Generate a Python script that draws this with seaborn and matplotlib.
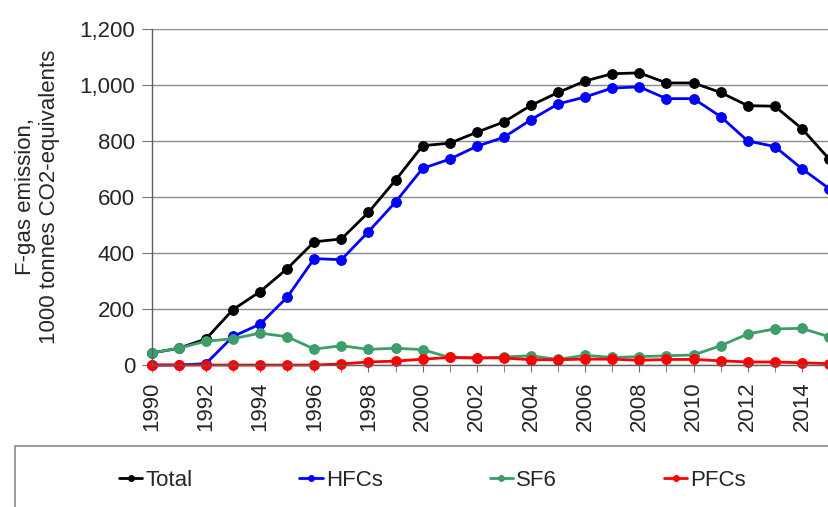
import matplotlib
matplotlib.use('Agg')
import matplotlib.pyplot as plt
import matplotlib.ticker as mticker
from matplotlib.patches import Rectangle
import pandas as pd
import seaborn as sns

# data (1000 tonnes CO2-eq)
years = list(range(1990, 2016))
total = [43, 60, 93, 198, 262, 344, 440, 450, 545, 660, 783, 792, 831, 868, 927,
         973, 1014, 1040, 1043, 1007, 1007, 973, 926, 924, 844, 736]
hfcs = [0, 0, 5, 102, 146, 242, 380, 376, 476, 582, 702, 735, 781, 813, 876,
        932, 957, 989, 993, 951, 951, 887, 800, 780, 701, 630]
sf6 = [43, 60, 85, 94, 114, 101, 57, 69, 56, 60, 55, 27, 24, 29, 33,
       20, 35, 27, 30, 33, 36, 69, 111, 129, 131, 101]
pfcs = [0, 0, 0, 0, 0, 0, 0, 4, 11, 14, 21, 27, 26, 25, 19,
        19, 21, 21, 17, 20, 20, 15, 11, 11, 8, 5]

series = {'Total': total, 'HFCs': hfcs, 'SF6': sf6, 'PFCs': pfcs}
colors = {'Total': '#000000', 'HFCs': '#0000ff', 'SF6': '#3d9e6b', 'PFCs': '#ff0000'}

sns.set_style('white')
plt.rcParams['font.family'] = ['Liberation Sans', 'DejaVu Sans']
plt.rcParams['font.size'] = 16

fig = plt.figure(figsize=(8.29, 5.07), dpi=100)
ax = fig.add_axes([0.183, 0.280, 0.817, 0.663])

for name, vals in series.items():
    df = pd.DataFrame({'year': years, 'value': vals})
    sns.lineplot(data=df, x='year', y='value', color=colors[name], marker='o',
                 markersize=7, markeredgecolor=colors[name], linewidth=2,
                 label=name, ax=ax, clip_on=False)

ax.set_xlim(1990, 2014.72)
ax.set_ylim(0, 1200)
ax.set_yticks(range(0, 1201, 200))
ax.yaxis.set_major_formatter(mticker.StrMethodFormatter('{x:,.0f}'))
ax.set_xticks(range(1990, 2015, 2))
ax.set_xticks(range(1990, 2016), minor=True)
ax.tick_params(axis='x', which='both', rotation=90, direction='out', length=5,
               color='#707070', bottom=True, pad=7, labelsize=16)
ax.tick_params(axis='y', direction='out', length=7, color='#707070', left=True,
               pad=5, labelsize=16)
ax.yaxis.grid(True, color='#8a8a8a', linewidth=1)
ax.set_axisbelow(True)
for s in ['top', 'right']:
    ax.spines[s].set_visible(False)
for s in ['left', 'bottom']:
    ax.spines[s].set_color('#606060')
    ax.spines[s].set_linewidth(1)

ax.set_xlabel('')
ax.set_ylabel('F-gas emission,\n1000 tonnes CO2-equivalents', fontsize=16,
              labelpad=14, linespacing=1.2)

handles, labels = ax.get_legend_handles_labels()
ax.get_legend().remove()
fig.legend(handles, labels, loc='center left', bbox_to_anchor=(0.1435, 0.053),
           ncol=4, frameon=False, handlelength=1.05, handletextpad=0.15,
           columnspacing=4.8, borderpad=0, borderaxespad=0, markerscale=0.6,
           fontsize=16)
fig.add_artist(Rectangle((15 / 829, -0.2), 1.2, 0.32, transform=fig.transFigure,
                         fill=False, edgecolor='#8a8a8a', linewidth=1.2))

fig.savefig('out.png', dpi=100)
